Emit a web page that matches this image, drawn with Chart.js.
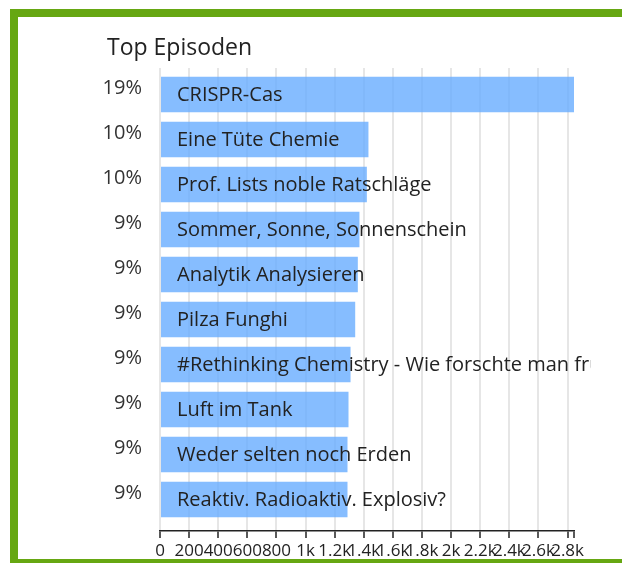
<!DOCTYPE html>
<html>
<head>
<meta charset="utf-8">
<title>Top Episoden</title>
<script src="https://cdn.jsdelivr.net/npm/chart.js@4.4.0/dist/chart.umd.min.js"></script>
<style>
  html, body { margin: 0; padding: 0; background: #fff; overflow: hidden; }
  #chart { display: block; }
</style>
</head>
<body>
<canvas id="chart" width="622" height="563"></canvas>
<script>
// downloads per episode, top ten
const episodes = [
  'CRISPR-Cas',
  'Eine Tüte Chemie',
  'Prof. Lists noble Ratschläge',
  'Sommer, Sonne, Sonnenschein',
  'Analytik Analysieren',
  'Pilza Funghi',
  '#Rethinking Chemistry - Wie forschte man früher?',
  'Luft im Tank',
  'Weder selten noch Erden',
  'Reaktiv. Radioaktiv. Explosiv?'
];
const downloads = [2844, 1432, 1421, 1370, 1359, 1341, 1309, 1295, 1288, 1288];
const xTicks = [0, 200, 400, 600, 800, 1000, 1200, 1400, 1600, 1800, 2000, 2200, 2400, 2600, 2800];

const FONT = '"Open Sans", "Noto Sans", sans-serif';
const total = downloads.reduce((a, b) => a + b, 0);
const shares = downloads.map(v => Math.round(v / total * 100) + '%');
const maxVal = Math.max(...downloads);

function kFormat(v) {
  if (v >= 1000) return (Math.round(v / 100) / 10) + 'k';
  return String(v);
}

// green card border: left, top and bottom edges only
const framePlugin = {
  id: 'frame',
  beforeDraw(chart) {
    const ctx = chart.ctx;
    ctx.save();
    ctx.fillStyle = '#fff';
    ctx.fillRect(0, 0, chart.width, chart.height);
    ctx.fillStyle = '#66a712';
    ctx.fillRect(10, 9, 8, 558);
    ctx.fillRect(10, 9, 612, 8);
    ctx.fillRect(10, 559, 612, 8);
    ctx.restore();
  }
};

// title above the plot
const titlePlugin = {
  id: 'titleText',
  afterDraw(chart) {
    const ctx = chart.ctx;
    ctx.save();
    ctx.font = '23px ' + FONT;
    ctx.fillStyle = '#222';
    ctx.textBaseline = 'alphabetic';
    ctx.fillText('Top Episoden', 107, 55);
    ctx.restore();
  }
};

// episode name written inside each bar, cut off at the right edge
const barText = {
  id: 'barText',
  afterDatasetsDraw(chart) {
    const {ctx, chartArea} = chart;
    const meta = chart.getDatasetMeta(0);
    ctx.save();
    ctx.beginPath();
    ctx.rect(0, 0, 591, chart.height);
    ctx.clip();
    ctx.font = '20px ' + FONT;
    ctx.fillStyle = '#222';
    ctx.textBaseline = 'middle';
    meta.data.forEach((bar, i) => {
      ctx.fillText(episodes[i], chartArea.left + 17, bar.y + 1);
    });
    ctx.restore();
  }
};

new Chart(document.getElementById('chart'), {
  type: 'bar',
  data: {
    datasets: [{
      data: downloads.map((v, i) => ({x: v, y: i})),
      backgroundColor: 'rgba(100, 170, 255, 0.78)',
      borderWidth: 0,
      barPercentage: 0.79,
      categoryPercentage: 1
    }]
  },
  options: {
    indexAxis: 'y',
    responsive: false,
    animation: false,
    layout: { padding: { left: 0, top: 68, right: 48, bottom: 0 } },
    plugins: {
      legend: { display: false },
      title: { display: false },
      tooltip: { enabled: false }
    },
    scales: {
      x: {
        type: 'linear',
        position: 'bottom',
        min: 0,
        max: maxVal,
        afterBuildTicks: s => { s.ticks = xTicks.concat(maxVal).map(v => ({value: v})); },
        afterFit: s => { s.height = 32; },
        grid: {
          color: c => (c.tick && c.tick.value > xTicks[xTicks.length - 1]) ? 'rgba(0,0,0,0)' : '#e6e6e6',
          lineWidth: 2,
          drawTicks: true,
          tickLength: 7,
          tickColor: '#222',
          tickWidth: 1.5
        },
        border: { display: true, color: '#222', width: 1.5 },
        ticks: {
          autoSkip: false,
          maxRotation: 0,
          minRotation: 0,
          padding: 3,
          color: '#222',
          font: { family: FONT, size: 17 },
          callback: v => xTicks.includes(v) ? kFormat(v) : ''
        }
      },
      y: {
        type: 'linear',
        reverse: true,
        offset: false,
        min: -0.59,
        max: 9.7,
        afterBuildTicks: s => { s.ticks = episodes.map((e, i) => ({value: i})); },
        afterFit: s => { s.width = 160; },
        grid: { display: false, drawTicks: false, offset: false },
        border: { display: false },
        ticks: {
          padding: 18,
          labelOffset: -6,
          color: '#333',
          font: { family: FONT, size: 20 },
          callback: v => shares[v]
        }
      }
    }
  },
  plugins: [framePlugin, titlePlugin, barText]
});
</script>
</body>
</html>
